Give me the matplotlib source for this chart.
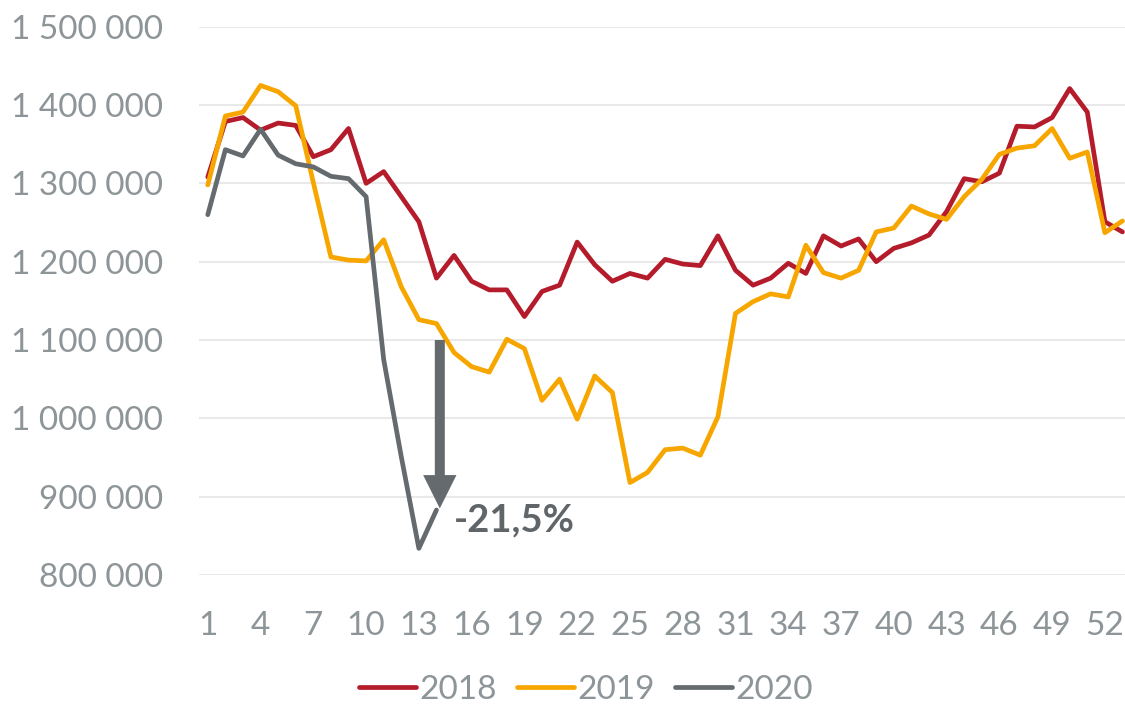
import matplotlib
matplotlib.use("Agg")
import matplotlib.pyplot as plt
from matplotlib.ticker import FuncFormatter

# weekly values
weeks = list(range(1, 54))
y2018 = [1308000, 1379000, 1384000, 1368000, 1377000, 1374000, 1334000, 1343000, 1370000, 1300000,
         1315000, 1283000, 1251000, 1179000, 1208000, 1175000, 1164000, 1164000, 1130000, 1162000,
         1170000, 1225000, 1196000, 1175000, 1185000, 1179000, 1203000, 1197000, 1195000, 1233000,
         1189000, 1170000, 1179000, 1198000, 1185000, 1233000, 1220000, 1229000, 1200000, 1217000,
         1224000, 1234000, 1264000, 1306000, 1302000, 1313000, 1373000, 1372000, 1384000, 1421000,
         1391000, 1251000, 1238000]
y2019 = [1298000, 1386000, 1391000, 1425000, 1417000, 1399000, 1301000, 1206000, 1202000, 1201000,
         1228000, 1168000, 1126000, 1121000, 1084000, 1066000, 1059000, 1101000, 1089000, 1023000,
         1050000, 999000, 1054000, 1033000, 918000, 931000, 960000, 962000, 953000, 1002000,
         1134000, 1149000, 1159000, 1155000, 1221000, 1186000, 1179000, 1189000, 1238000, 1243000,
         1271000, 1261000, 1254000, 1283000, 1305000, 1337000, 1345000, 1348000, 1370000, 1332000,
         1340000, 1237000, 1252000]
weeks2020 = list(range(1, 15))
y2020 = [1260000, 1343000, 1335000, 1369000, 1336000, 1325000, 1321000, 1309000, 1306000, 1283000,
         1075000, 951000, 834000, 883000]
xticks = list(range(1, 53, 3))
series_names = ["2018", "2019", "2020"]
colors = ["#b41c2b", "#f7a600", "#646a6d"]
label = "-21,5%"

plt.rcParams['font.family'] = ['Lato', 'DejaVu Sans']
txt_col = "#8e9598"

fig = plt.figure(figsize=(11.25, 7.04), dpi=100)
ax = fig.add_axes([199/1125, 1 - 575/704, 926/1125, (575 - 26.7)/704])

ax.plot(weeks, y2018, color=colors[0], lw=3.4, label=series_names[0], solid_joinstyle='round', solid_capstyle='round')
ax.plot(weeks, y2019, color=colors[1], lw=3.4, label=series_names[1], solid_joinstyle='round', solid_capstyle='round')
ax.plot(weeks2020, y2020, color=colors[2], lw=3.4, label=series_names[2], solid_joinstyle='round', solid_capstyle='round')

ax.set_xlim(0.5, 0.5 + 926/17.59)
ax.set_ylim(800000, 1500000)
ax.set_xticks(xticks)
ax.set_yticks(range(800000, 1500001, 100000))
ax.yaxis.set_major_formatter(FuncFormatter(lambda v, p: f"{int(v):,}".replace(",", " ")))
ax.grid(axis='y', color='#e9e9e9', lw=1.5)
ax.set_axisbelow(True)
for s in ax.spines.values():
    s.set_visible(False)
ax.tick_params(axis='y', length=0, pad=26, labelsize=24, labelcolor=txt_col)
ax.tick_params(axis='x', length=0, pad=26, labelsize=24, labelcolor=txt_col)

# drop arrow and its label
ax.annotate('', xy=(14.19, 885000), xytext=(14.19, 1100000),
            arrowprops=dict(arrowstyle="simple,tail_width=0.72,head_width=2.4,head_length=2.4",
                            mutation_scale=10, color=colors[2], shrinkA=0, shrinkB=0, lw=0))
ax.text(15.0, 870000, label, fontsize=27.5, fontweight='bold', color="#5f6568", va='center', ha='left')

fig.legend(loc='center', bbox_to_anchor=(0.521, 0.02), ncol=3, frameon=False,
           fontsize=24, labelcolor=txt_col, handlelength=1.7, handletextpad=0.12,
           columnspacing=0.6)

fig.savefig("out.png", dpi=100)
